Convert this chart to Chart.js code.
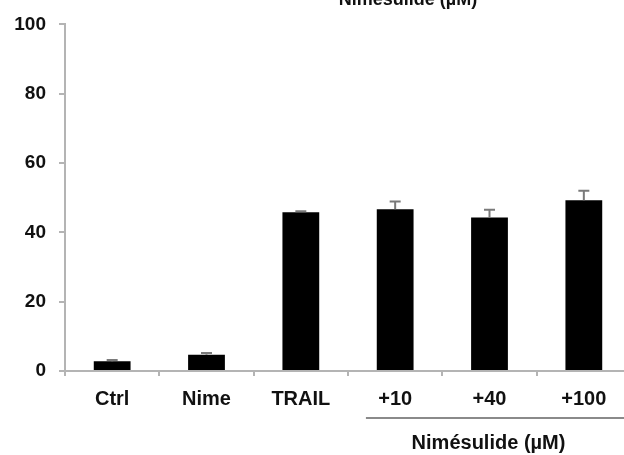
<!DOCTYPE html>
<html>
<head>
<meta charset="utf-8">
<script src="https://cdn.jsdelivr.net/npm/chart.js@4"></script>
<style>
  html, body { margin: 0; padding: 0; background: #fff; overflow: hidden; }
  #wrap { width: 632px; height: 455px; position: relative; }
</style>
</head>
<body>
<div id="wrap"><canvas id="canvas"></canvas></div>
<script>
let labels = ['Ctrl', 'Nime', 'TRAIL', '+10', '+40', '+100'];
let values = [2.8, 4.7, 45.8, 46.7, 44.3, 49.3];
let errors = [0.4, 0.5, 0.3, 2.2, 2.2, 2.7];
let yTicks = [0, 20, 40, 60, 80, 100];
let groupLabel = 'Nimésulide (µM)';

let axisGray = '#b4b4b4';
let family = '"Liberation Sans", Arial, sans-serif';

// error bars (upper side only) plus the bracket under the drug doses
let extras = {
    id: 'extras',
    afterDatasetsDraw(chart) {
        let ctx = chart.ctx;
        let y = chart.scales.y;
        let bars = chart.getDatasetMeta(0).data;

        ctx.save();
        ctx.strokeStyle = '#7a7a7a';
        ctx.lineWidth = 2;
        for (let i = 0; i < bars.length; i++) {
            let cx = bars[i].x;
            let top = y.getPixelForValue(values[i]);
            let cap = y.getPixelForValue(values[i] + errors[i]);
            ctx.beginPath();
            ctx.moveTo(cx, top);
            ctx.lineTo(cx, cap);
            ctx.moveTo(cx - 5.5, cap);
            ctx.lineTo(cx + 5.5, cap);
            ctx.stroke();
        }
        ctx.restore();
    },
    afterDraw(chart) {
        let ctx = chart.ctx;
        let x = chart.scales.x;
        let step = x.getPixelForValue(4) - x.getPixelForValue(3);
        let start = x.getPixelForValue(3) - 0.31 * step;

        ctx.save();
        ctx.strokeStyle = '#8a8a8a';
        ctx.lineWidth = 2;
        ctx.beginPath();
        ctx.moveTo(start, 418);
        ctx.lineTo(chart.width, 418);
        ctx.stroke();

        ctx.fillStyle = '#111';
        ctx.textAlign = 'center';
        ctx.textBaseline = 'middle';
        ctx.font = 'bold 20px ' + family;
        ctx.fillText(groupLabel, x.getPixelForValue(4) - 1, 443);

        // label of the panel above, cut by the top edge
        ctx.font = 'bold 18px ' + family;
        ctx.textBaseline = 'alphabetic';
        let area = chart.chartArea;
        ctx.fillText(groupLabel, area.left + 0.606 * (area.right - area.left), 5);
        ctx.restore();
    }
};

let options = {
    type: 'bar',
    data: {
        labels: labels,
        datasets: [{
            data: values,
            backgroundColor: '#000',
            borderWidth: 0,
            categoryPercentage: 1,
            barPercentage: 0.39
        }]
    },
    options: {
        responsive: true,
        maintainAspectRatio: false,
        animation: false,
        layout: { padding: { top: 23, right: 1, left: 0, bottom: 0 } },
        plugins: {
            legend: { display: false },
            tooltip: { enabled: false }
        },
        scales: {
            x: {
                afterFit: function(scale) { scale.height = 84; },
                border: { color: axisGray, width: 2 },
                grid: {
                    offset: true,
                    drawOnChartArea: false,
                    drawTicks: true,
                    tickLength: 5,
                    color: axisGray,
                    lineWidth: 2
                },
                ticks: {
                    color: '#111',
                    font: { family: family, size: 20, weight: 'bold' },
                    padding: 11,
                    maxRotation: 0
                }
            },
            y: {
                min: 0,
                max: 100,
                afterFit: function(scale) { scale.width = 65; },
                afterBuildTicks: function(scale) {
                    scale.ticks = yTicks.map(function(v) { return { value: v }; });
                },
                border: { color: axisGray, width: 2 },
                grid: {
                    drawOnChartArea: false,
                    drawTicks: true,
                    tickLength: 6,
                    color: axisGray,
                    lineWidth: 2
                },
                ticks: {
                    color: '#111',
                    font: { family: family, size: 19, weight: 'bold' },
                    padding: 13
                }
            }
        }
    },
    plugins: [extras]
};

let chart = new Chart(document.getElementById('canvas'), options);
</script>
</body>
</html>
